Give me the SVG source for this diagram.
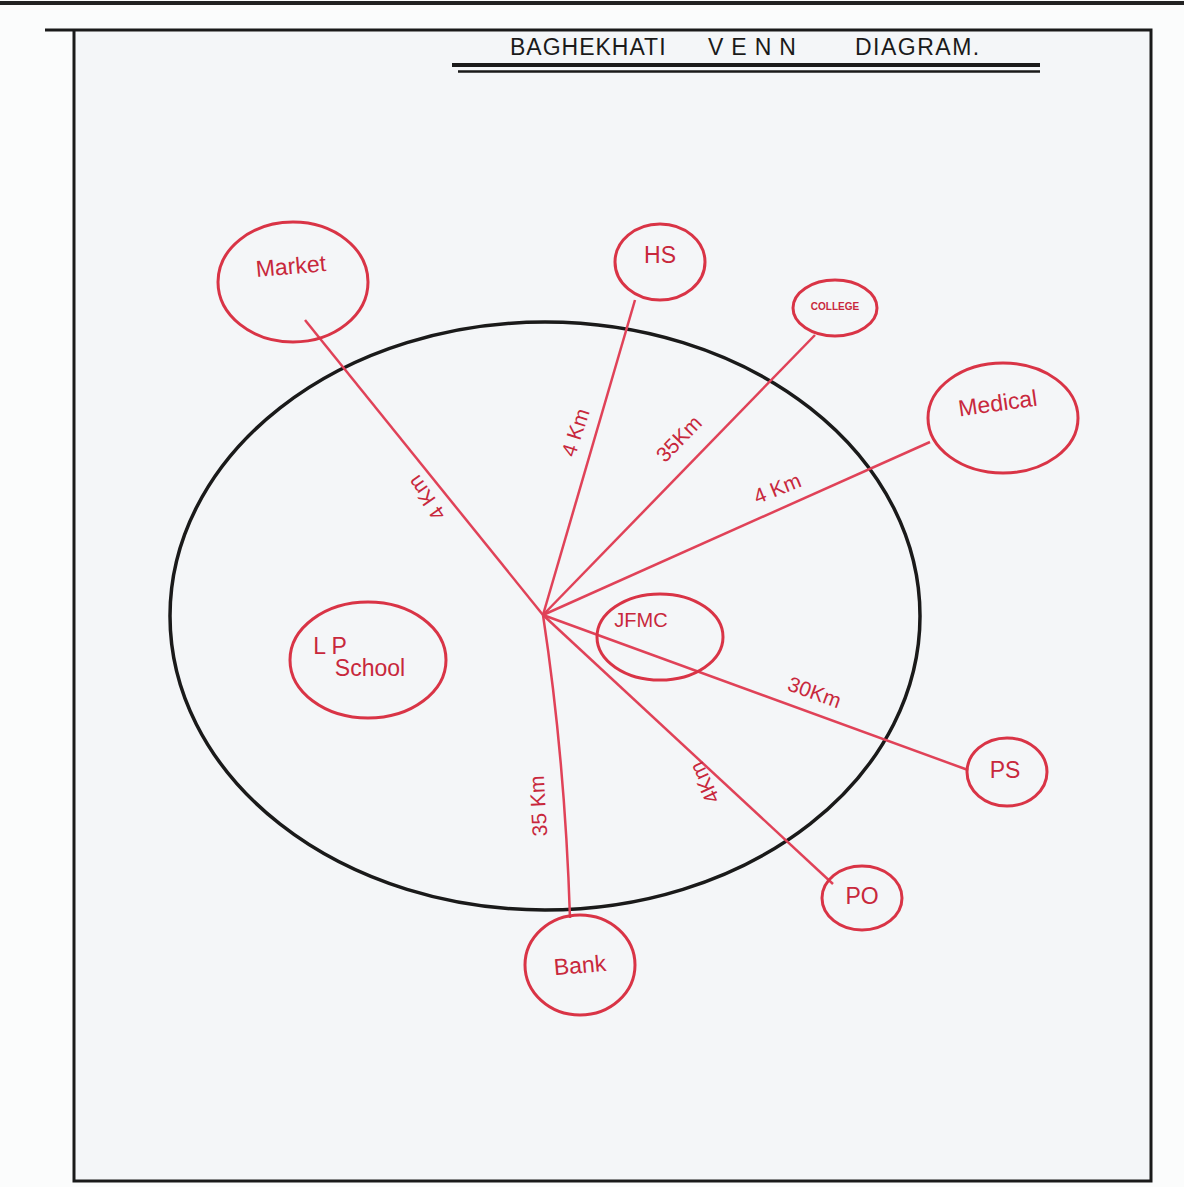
<svg xmlns="http://www.w3.org/2000/svg" width="1184" height="1187" viewBox="0 0 1184 1187">
<style>
.frame{fill:none;stroke:#1a1a1a;stroke-width:3}
.node{fill:none;stroke:#d93446;stroke-width:3}
.edge{stroke:#e04258;stroke-width:2.5;fill:none}
.lbl{font-family:"Liberation Sans",Arial,sans-serif;fill:#c8283c;font-size:23px;text-anchor:middle;dominant-baseline:middle}
.elbl{font-family:"Liberation Sans",Arial,sans-serif;fill:#c8283c;font-size:21px;text-anchor:middle;dominant-baseline:middle}
.title{font-family:"Liberation Sans",Arial,sans-serif;fill:#1a1a1a;font-size:23px}
</style>
<rect width="1184" height="1187" fill="#fbfcfc"/>
<line x1="0" y1="3" x2="1184" y2="3" stroke="#222" stroke-width="4"/>
<rect x="74" y="30" width="1077" height="1151" fill="#f4f6f8"/>
<path class="frame" d="M45 30 H1151 V1181 H74 V30"/>
<g id="title">
<text class="title" x="510" y="55" letter-spacing="1">BAGHEKHATI</text>
<text class="title" x="708" y="55" letter-spacing="8">VENN</text>
<text class="title" x="855" y="55" letter-spacing="1.5">DIAGRAM.</text>
<line x1="452" y1="65" x2="1040" y2="65" stroke="#1a1a1a" stroke-width="4"/>
<line x1="458" y1="71.5" x2="1040" y2="71.5" stroke="#1a1a1a" stroke-width="2.5"/>
</g>
<g id="village">
<ellipse cx="545" cy="616" rx="375" ry="294" fill="none" stroke="#1a1a1a" stroke-width="3.5"/>
</g>
<g id="connectors">
<line class="edge" x1="543" y1="615" x2="305" y2="320"/>
<line class="edge" x1="543" y1="615" x2="635" y2="300"/>
<line class="edge" x1="543" y1="615" x2="815" y2="335"/>
<line class="edge" x1="543" y1="615" x2="930" y2="442"/>
<line class="edge" x1="543" y1="615" x2="968" y2="770"/>
<line class="edge" x1="543" y1="615" x2="833" y2="884"/>
<path class="edge" d="M543 615 Q565 760 570 918"/>
<text class="elbl" transform="translate(428 497) rotate(-125)">4 Km</text>
<text class="elbl" transform="translate(577 433) rotate(-72)">4 Km</text>
<text class="elbl" transform="translate(680 440) rotate(-46)">35Km</text>
<text class="elbl" transform="translate(778 490) rotate(-22)">4 Km</text>
<text class="elbl" transform="translate(814 694) rotate(20)">30Km</text>
<text class="elbl" transform="translate(706 782) rotate(-115)">4Km</text>
<text class="elbl" transform="translate(540 806) rotate(-93)">35 Km</text>
</g>
<g id="market">
<ellipse class="node" cx="293" cy="282" rx="75" ry="60"/>
<text class="lbl" transform="translate(291 268) rotate(-5)">Market</text>
</g>
<g id="hs">
<ellipse class="node" cx="660" cy="262" rx="45" ry="38"/>
<text class="lbl" x="660" y="257">HS</text>
</g>
<g id="college">
<ellipse class="node" cx="835" cy="308" rx="42" ry="28"/>
<text class="lbl" x="835" y="307" style="font-size:10px;font-weight:bold">COLLEGE</text>
</g>
<g id="medical">
<ellipse class="node" cx="1003" cy="418" rx="75" ry="55"/>
<text class="lbl" transform="translate(998 405) rotate(-8)">Medical</text>
</g>
<g id="jfmc">
<ellipse class="node" cx="660" cy="637" rx="63" ry="43"/>
<text class="lbl" x="641" y="622" style="font-size:20px">JFMC</text>
</g>
<g id="lpschool">
<ellipse class="node" cx="368" cy="660" rx="78" ry="58"/>
<text class="lbl" x="330" y="648">L P</text>
<text class="lbl" x="370" y="670">School</text>
</g>
<g id="ps">
<ellipse class="node" cx="1007" cy="772" rx="40" ry="34"/>
<text class="lbl" x="1005" y="772">PS</text>
</g>
<g id="po">
<ellipse class="node" cx="862" cy="898" rx="40" ry="32"/>
<text class="lbl" x="862" y="898">PO</text>
</g>
<g id="bank">
<ellipse class="node" cx="580" cy="965" rx="55" ry="50"/>
<text class="lbl" transform="translate(580 967) rotate(-5)">Bank</text>
</g>
</svg>
